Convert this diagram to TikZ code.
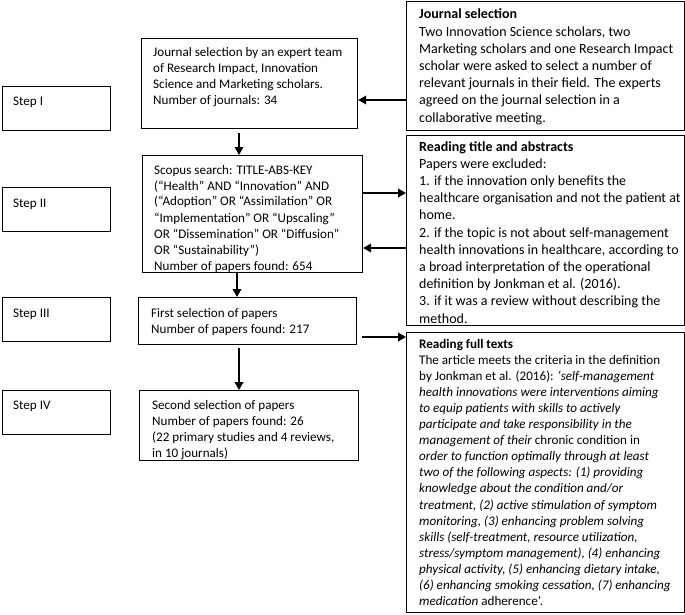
\documentclass[tikz,border=0pt]{standalone}
\usepackage{fontspec}
\setmainfont{Carlito}
\usetikzlibrary{arrows.meta,calc}
\tikzset{
  frame/.style={draw=black, line width=1.1pt, anchor=north west, inner sep=0pt},
  txt/.style={anchor=base west, inner sep=0pt},
  arr/.style={line width=1.7pt, -{Triangle[length=8pt,width=8.5pt]}},
}
\newcommand\mtxt[1]{\parbox[t]{265pt}{\fontsize{13.1}{16}\selectfont\raggedright #1}}
\newcommand\stxt[1]{\parbox[t]{300pt}{\fontsize{14}{17.2}\selectfont\raggedright #1}}
\newcommand\ftxt[1]{\parbox[t]{300pt}{\fontsize{13.1}{16.1}\selectfont\raggedright #1}}
\begin{document}
\begin{tikzpicture}[x=1pt,y=-1pt]
\useasboundingbox (0,0) rectangle (685,615);
% step boxes
\node[frame, minimum width=108pt, minimum height=44pt] (s1) at (2,86) {};
\node[frame, minimum width=108pt, minimum height=44pt] (s2) at (2,187) {};
\node[frame, minimum width=108pt, minimum height=44pt] (s3) at (2,297) {};
\node[frame, minimum width=108pt, minimum height=44pt] (s4) at (2,390) {};
\node[txt] (s1t) at (13,106) {\mtxt{Step I}};
\node[txt] (s2t) at (13,207) {\mtxt{Step II}};
\node[txt] (s3t) at (13,317) {\mtxt{Step III}};
\node[txt] (s4t) at (13,409) {\mtxt{Step IV}};
% main boxes
\node[frame, minimum width=216pt, minimum height=90pt] (m1) at (141,38) {};
\node[frame, minimum width=220pt, minimum height=117pt] (m2) at (142,155) {};
\node[frame, minimum width=218pt, minimum height=47pt] (m3) at (138,297) {};
\node[frame, minimum width=219pt, minimum height=70pt] (m4) at (139,390) {};
\node[txt] (m1t) at (153,57) {\mtxt{Journal selection by an expert team\\
of Research Impact, Innovation\\
Science and Marketing scholars.\\
Number of journals: 34}};
\begin{scope}
\clip (m2.north west) rectangle (m2.south east);
\node[txt] (m2t) at (154,174) {\mtxt{Scopus search: TITLE-ABS-KEY\\
(“Health” AND “Innovation” AND\\
(“Adoption” OR “Assimilation” OR\\
“Implementation” OR “Upscaling”\\
OR “Dissemination” OR “Diffusion”\\
OR “Sustainability”)\\
Number of papers found: 654}};
\end{scope}
\node[txt] (m3t) at (151,317) {\mtxt{First selection of papers\\
Number of papers found: 217}};
\begin{scope}
\clip (m4.north west) rectangle (m4.south east);
\node[txt] (m4t) at (152,409) {\mtxt{Second selection of papers\\
Number of papers found: 26\\
(22 primary studies and 4 reviews,\\
in 10 journals)}};
\end{scope}
% side boxes
\node[frame, minimum width=278pt, minimum height=129pt] (r1) at (406,1) {};
\node[frame, minimum width=278pt, minimum height=190pt] (r2) at (406,135) {};
\node[frame, minimum width=278pt, minimum height=280pt] (r3) at (406,332) {};
\node[txt] (r1t) at (419,19) {\stxt{\textbf{Journal selection}\\
Two Innovation Science scholars, two\\
Marketing scholars and one Research Impact\\
scholar were asked to select a number of\\
relevant journals in their field. The experts\\
agreed on the journal selection in a\\
collaborative meeting.}};
\node[txt] (r2t) at (419,151) {\stxt{\textbf{Reading title and abstracts}\\
Papers were excluded:\\
1. if the innovation only benefits the\\
healthcare organisation and not the patient at\\
home.\\
2. if the topic is not about self-management\\
health innovations in healthcare, according to\\
a broad interpretation of the operational\\
definition by Jonkman et al. (2016).\\
3. if it was a review without describing the\\
method.}};
\node[txt] (r3t) at (419,348) {\ftxt{\textbf{Reading full texts}\\
The article meets the criteria in the definition\\
by Jonkman et al. (2016): {\itshape ‘self-management\\
health innovations were interventions aiming\\
to equip patients with skills to actively\\
participate and take responsibility in the\\
management of their} chronic condition in\\
{\itshape order to function optimally through at least\\
two of the following aspects: (1) providing\\
knowledge about the condition and/or\\
treatment, (2) active stimulation of symptom\\
monitoring, (3) enhancing problem solving\\
skills (self-treatment, resource utilization,\\
stress/symptom management), (4) enhancing\\
physical activity, (5) enhancing dietary intake,\\
(6) enhancing smoking cessation, (7) enhancing\\
medication} adherence’.}};
% arrows
\draw[arr] (m1.south -| 239,0) ++(0,4) -- (m2.north -| 239,0);
\draw[arr] (m2.south -| 237,0) -- (m3.north -| 237,0);
\draw[arr] (m3.south -| 239,0) ++(0,3) -- (m4.north -| 239,0);
\draw[arr] (r1.west |- 0,100) -- (m1.east |- 0,100);
\draw[arr] (m2.east |- 0,193) -- (r2.west |- 0,193);
\draw[arr] (r2.west |- 0,248) -- (m2.east |- 0,248);
\draw[arr] ([xshift=5pt]m3.east |- 0,337) -- (r3.west |- 0,337);
\end{tikzpicture}
\end{document}
